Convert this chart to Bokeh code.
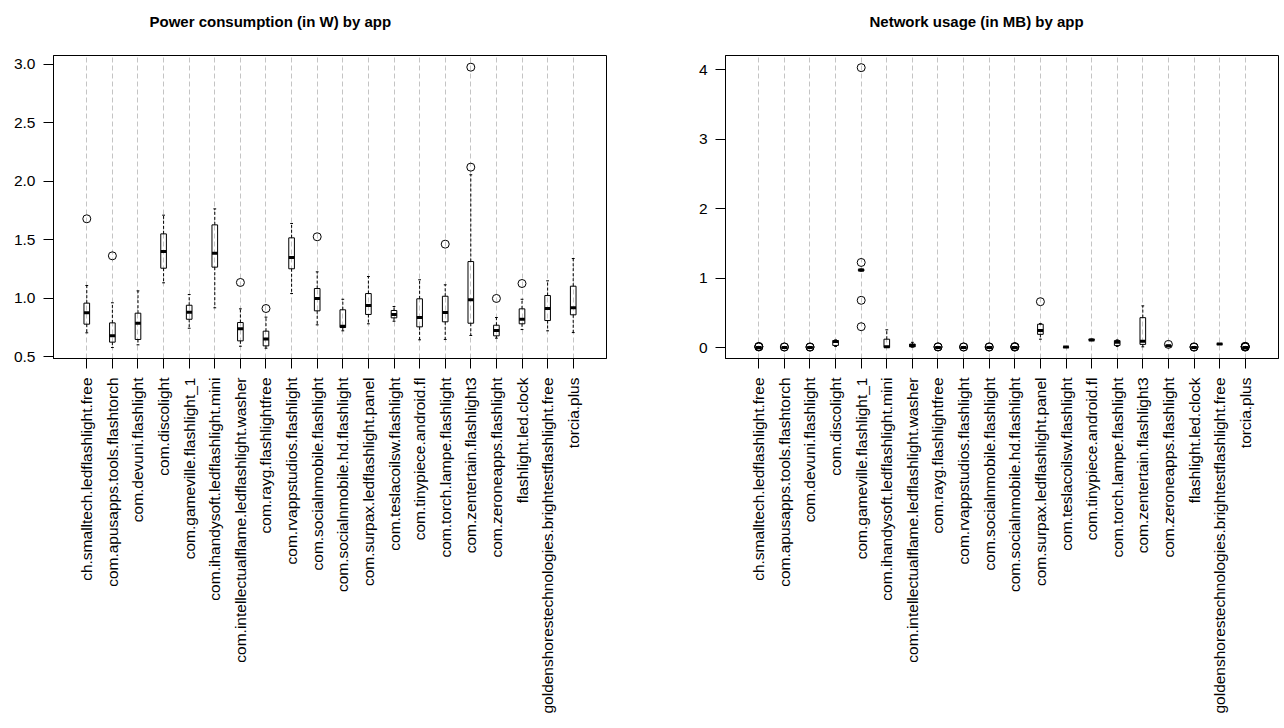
import math
from bokeh.plotting import figure
from bokeh.models import Range1d, FixedTicker, Title
from bokeh.layouts import row
from bokeh.embed import file_html
from bokeh.resources import INLINE

apps = [
    "ch.smalltech.ledflashlight.free",
    "com.apusapps.tools.flashtorch",
    "com.devuni.flashlight",
    "com.discolight",
    "com.gameville.flashlight_1",
    "com.ihandysoft.ledflashlight.mini",
    "com.intellectualflame.ledflashlight.washer",
    "com.rayg.flashlightfree",
    "com.rvappstudios.flashlight",
    "com.socialnmobile.flashlight",
    "com.socialnmobile.hd.flashlight",
    "com.surpax.ledflashlight.panel",
    "com.teslacoilsw.flashlight",
    "com.tinypiece.android.fl",
    "com.torch.lampe.flashlight",
    "com.zentertain.flashlight3",
    "com.zeroneapps.flashlight",
    "flashlight.led.clock",
    "goldenshorestechnologies.brightestflashlight.free",
    "torcia.plus",
]

# Power consumption (W): five-number summaries + outliers
power_lower = [0.703, 0.577, 0.600, 1.131, 0.742, 0.917, 0.588, 0.571, 1.039, 0.771,
               0.720, 0.780, 0.802, 0.643, 0.646, 0.680, 0.657, 0.731, 0.720, 0.705]
power_q1 = [0.777, 0.623, 0.646, 1.256, 0.819, 1.265, 0.634, 0.591, 1.251, 0.891,
            0.748, 0.860, 0.831, 0.754, 0.797, 0.785, 0.677, 0.780, 0.808, 0.857]
power_median = [0.874, 0.677, 0.785, 1.399, 0.879, 1.385, 0.737, 0.651, 1.348, 0.997,
                0.760, 0.937, 0.860, 0.834, 0.877, 0.985, 0.723, 0.819, 0.911, 0.917]
power_q3 = [0.957, 0.788, 0.871, 1.550, 0.939, 1.627, 0.791, 0.717, 1.516, 1.082,
            0.900, 1.039, 0.894, 0.994, 1.016, 1.313, 0.768, 0.908, 1.022, 1.102]
power_upper = [1.108, 0.960, 1.062, 1.710, 1.031, 1.764, 0.908, 0.837, 1.639, 1.225,
               0.990, 1.185, 0.928, 1.157, 1.114, 2.056, 0.834, 0.990, 1.148, 1.339]
power_outliers = [[1.679], [1.362], [], [], [], [], [1.134], [0.911], [], [1.525],
                  [], [], [], [], [1.462], [2.121, 2.977], [0.997], [1.125], [], []]

# Network usage (MB)
net_lower = [0.000, 0.000, 0.000, 0.015, 1.100, 0.000, 0.005, 0.000, 0.000, 0.000,
             0.000, 0.120, 0.000, 0.100, 0.015, 0.010, 0.015, 0.000, 0.045, 0.000]
net_q1 = [0.000, 0.000, 0.000, 0.030, 1.105, 0.000, 0.010, 0.000, 0.000, 0.000,
          0.000, 0.190, 0.004, 0.105, 0.030, 0.045, 0.020, 0.000, 0.047, 0.000]
net_median = [0.000, 0.001, 0.001, 0.085, 1.115, 0.010, 0.030, 0.001, 0.001, 0.001,
              0.000, 0.245, 0.006, 0.110, 0.075, 0.092, 0.025, 0.001, 0.050, 0.000]
net_q3 = [0.002, 0.002, 0.002, 0.100, 1.125, 0.120, 0.050, 0.002, 0.002, 0.002,
          0.002, 0.335, 0.008, 0.118, 0.100, 0.430, 0.030, 0.002, 0.053, 0.002]
net_upper = [0.004, 0.004, 0.003, 0.110, 1.130, 0.255, 0.075, 0.004, 0.004, 0.004,
             0.004, 0.345, 0.012, 0.122, 0.110, 0.600, 0.033, 0.004, 0.055, 0.004]
net_outliers = [[0.008, 0.012, 0.016], [0.006, 0.010], [0.005, 0.009], [],
                [4.030, 1.225, 0.680, 0.300], [], [], [0.007, 0.011], [0.006, 0.010],
                [0.006, 0.010], [0.006, 0.010, 0.014], [0.660], [], [], [], [],
                [0.045], [0.005, 0.010], [], [0.006, 0.010, 0.014, 0.018]]

FONT = "Liberation Sans"
BOXW = 0.11
STAPLE = 0.055
SHIFT = 15  # canvas is lifted by this many px so the title can sit higher


def make(title_text, title_offset, lower, q1, med, q3, upper, outliers,
         yr, yticks, ylabels, width, bl, br):
    xs = list(range(1, len(apps) + 1))
    p = figure(width=width, height=726 + SHIFT, output_backend="svg",
               toolbar_location=None,
               x_range=Range1d(-0.3, 21.3), y_range=Range1d(*yr),
               min_border_left=bl, min_border_right=br, min_border_top=55 + SHIFT,
               min_border_bottom=368)
    p.add_layout(Title(text=title_text, align="left", offset=title_offset,
                       standoff=51, text_font=FONT, text_font_size="15px",
                       text_font_style="bold", text_color="black"), "above")
    p.background_fill_color = "white"
    p.border_fill_color = "white"
    p.outline_line_color = "black"
    p.outline_line_alpha = 1
    p.outline_line_width = 1

    p.ygrid.visible = False
    p.xgrid.ticker = FixedTicker(ticks=xs)
    p.xgrid.grid_line_color = "#c4c4c4"
    p.xgrid.grid_line_dash = "5 3"
    p.xgrid.grid_line_width = 1

    p.xaxis.ticker = FixedTicker(ticks=xs)
    p.xaxis.major_label_overrides = {x: a for x, a in zip(xs, apps)}
    p.xaxis.major_label_orientation = math.pi / 2
    p.yaxis.ticker = FixedTicker(ticks=yticks)
    p.yaxis.major_label_overrides = {t: l for t, l in zip(yticks, ylabels)}
    for ax in (p.xaxis, p.yaxis):
        ax.axis_line_color = "black"
        ax.major_tick_line_color = "black"
        ax.minor_tick_line_color = None
        ax.major_tick_in = 0
        ax.major_tick_out = 10
        ax.major_label_text_font = FONT
        ax.major_label_text_font_size = "15.5px"
        ax.major_label_text_color = "black"
    p.xaxis.major_label_standoff = 9
    p.yaxis.major_label_standoff = 8

    # whiskers
    p.segment(xs, q3, xs, upper, line_color="black", line_width=1, line_dash="3 2")
    p.segment(xs, q1, xs, lower, line_color="black", line_width=1, line_dash="3 2")
    # staples
    p.segment([x - STAPLE for x in xs], upper, [x + STAPLE for x in xs], upper,
              line_color="black", line_width=1)
    p.segment([x - STAPLE for x in xs], lower, [x + STAPLE for x in xs], lower,
              line_color="black", line_width=1)
    # boxes
    p.quad(left=[x - BOXW for x in xs], right=[x + BOXW for x in xs],
           bottom=q1, top=q3, fill_alpha=0, line_color="black", line_width=1)
    # medians
    p.segment([x - BOXW for x in xs], med, [x + BOXW for x in xs], med,
              line_color="black", line_width=3)
    # outliers
    ox, oy = [], []
    for x, outs in zip(xs, outliers):
        for o in outs:
            ox.append(x)
            oy.append(o)
    p.scatter(ox, oy, marker="circle", size=8, fill_alpha=0,
              line_color="black", line_width=1)
    return p


p1 = make("Power consumption (in W) by app", 96,
          power_lower, power_q1, power_median, power_q3, power_upper, power_outliers,
          (0.483, 3.077), [0.5, 1.0, 1.5, 2.0, 2.5, 3.0],
          ["0.5", "1.0", "1.5", "2.0", "2.5", "3.0"], 650, 53, 44)
p2 = make("Network usage (in MB) by app", 144,
          net_lower, net_q1, net_median, net_q3, net_upper, net_outliers,
          (-0.158, 4.205), [0, 1, 2, 3, 4], ["0", "1", "2", "3", "4"], 632, 75, 4)

layout = row(p1, p2, styles={"margin-top": "-%dpx" % SHIFT})
open("out.html", "w").write(file_html(layout, INLINE))
